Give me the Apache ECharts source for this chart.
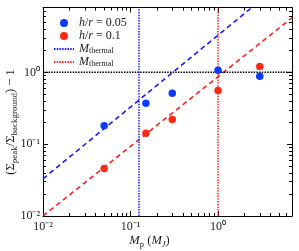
<!DOCTYPE html>
<html><head><meta charset="utf-8">
<script src="https://cdn.jsdelivr.net/npm/echarts@6/dist/echarts.min.js"></script>
<style>html,body{margin:0;padding:0;background:#fff}#c{width:299px;height:251px}</style>
</head><body><div id="c"></div>
<script>
// ---- data ----
const massValues = [0.05, 0.15, 0.3, 1, 3];            // M_p (M_J)
const excessH005 = [0.18, 0.37, 0.51, 1.07, 0.88];      // h/r = 0.05
const excessH01  = [0.046, 0.142, 0.22, 0.56, 1.21];    // h/r = 0.1
const fitMass    = [0.01, 7];
const fitH005    = [0.033, 23];
const fitH01     = [0.010, 5.75];
const thermalMassH005 = 0.125;
const thermalMassH01  = 1;
const unityLevel = 1;
const xRange = [0.01, 7];
const yRange = [0.01, 8];
const xMajorTicks = [0.01, 0.1, 1];
const xMinorTicks = [0.02, 0.03, 0.04, 0.05, 0.06, 0.07, 0.08, 0.09, 0.2, 0.3, 0.4, 0.5, 0.6, 0.7, 0.8, 0.9, 2, 3, 4, 5, 6];
const yMajorTicks = [0.01, 0.1, 1];
const yMinorTicks = [0.02, 0.03, 0.04, 0.05, 0.06, 0.07, 0.08, 0.09, 0.2, 0.3, 0.4, 0.5, 0.6, 0.7, 0.8, 0.9, 2, 3, 4, 5, 6, 7];
const tickLabelText = {'0.01': '10\u207B\u00B2', '0.1': '10\u207B\u00B9', '1': '10\u2070'};

const BLUE = '#0a3cff', RED = '#ff2a14';
const BLUE_L = '#1a1aff', RED_L = '#ff2020';
const FONT = 'Liberation Serif';

function mkAxis(pos, range, ticks, len, showLine, extra) {
  return Object.assign({
    type: 'log', position: pos, min: range[0], max: range[1],
    axisLine: {show: showLine, lineStyle: {color: '#000', width: 1}},
    axisTick: {show: true, inside: true, length: len, customValues: ticks, lineStyle: {color: '#000', width: 1}},
    splitLine: {show: false},
    axisLabel: {show: false}
  }, extra || {});
}
const labelCfg = (values, margin) => ({
  show: true, customValues: values, margin: margin,
  fontFamily: FONT, fontSize: 12, color: '#222',
  formatter: v => tickLabelText[String(+v.toPrecision(6))] || ''
});

const chart = echarts.init(document.getElementById('c'));
const pair = (xs, ys) => xs.map((x, i) => [x, ys[i]]);

chart.setOption({
  animation: false,
  backgroundColor: '#fff',
  grid: {left: 43, top: 7.5, right: 7, bottom: 35},
  xAxis: [
    mkAxis('bottom', xRange, xMajorTicks, 5, true, {axisLabel: labelCfg(xMajorTicks, 5)}),
    mkAxis('bottom', xRange, xMinorTicks, 3, false),
    mkAxis('top', xRange, xMajorTicks, 5, true),
    mkAxis('top', xRange, xMinorTicks, 3, false)
  ],
  yAxis: [
    mkAxis('left', yRange, yMajorTicks, 5, true, {axisLabel: labelCfg(yMajorTicks, 3)}),
    mkAxis('left', yRange, yMinorTicks, 3, false),
    mkAxis('right', yRange, yMajorTicks, 5, true),
    mkAxis('right', yRange, yMinorTicks, 3, false)
  ],
  graphic: [
    {type: 'text', left: 'center', bottom: 2, x: 20, z: 10, style: {
      text: '{it|M}{subr|p} {n|(}{it|M}{subi|J}{n|)}', rich: {
        it: {fontFamily: FONT, fontStyle: 'italic', fontSize: 12.5, fill: '#222', verticalAlign: 'middle', lineHeight: 16},
        n: {fontFamily: FONT, fontSize: 12.5, fill: '#222', verticalAlign: 'middle', lineHeight: 16},
        subr: {fontFamily: FONT, fontSize: 8.5, fill: '#222', verticalAlign: 'bottom', lineHeight: 16},
        subi: {fontFamily: FONT, fontStyle: 'italic', fontSize: 8.5, fill: '#222', verticalAlign: 'bottom', lineHeight: 16}
      }}},
    {type: 'text', x: 11, y: 122, rotation: Math.PI / 2, z: 10, style: {
      text: '{n|(\u03A3}{sub|peak}{n|/\u03A3}{sub|background}{n|) \u2212 1}', align: 'center', verticalAlign: 'middle', rich: {
        n: {fontFamily: FONT, fontSize: 12.5, fill: '#222', verticalAlign: 'middle', lineHeight: 16},
        sub: {fontFamily: FONT, fontSize: 9, fill: '#222', verticalAlign: 'bottom', lineHeight: 16}
      }}}
  ],
  legend: {
    orient: 'vertical', left: 53, top: 17, padding: 0, itemGap: 1, itemWidth: 20, itemHeight: 8,
    data: [
      {name: 'h005'}, {name: 'h01'},
      {name: 'mthB', itemStyle: {color: 'rgba(0,0,0,0)', borderWidth: 0, opacity: 0}},
      {name: 'mthR', itemStyle: {color: 'rgba(0,0,0,0)', borderWidth: 0, opacity: 0}}
    ],
    formatter: function (name) {
      if (name === 'h005') return '{it|h}{n|/}{it|r}{n| = 0.05}';
      if (name === 'h01') return '{it|h}{n|/}{it|r}{n| = 0.1}';
      return '{it|M}{sub|thermal}';
    },
    textStyle: {rich: {
      it: {fontFamily: FONT, fontStyle: 'italic', fontSize: 12, color: '#222', verticalAlign: 'middle', lineHeight: 12},
      n: {fontFamily: FONT, fontSize: 12, color: '#222', verticalAlign: 'middle', lineHeight: 12},
      sub: {fontFamily: FONT, fontSize: 8, color: '#222', verticalAlign: 'bottom', lineHeight: 12}
    }}
  },
  series: [
    {name: 'fitB', type: 'line', data: pair(fitMass, fitH005), symbol: 'none', z: 2,
     lineStyle: {color: BLUE_L, width: 1.6, type: [5, 3.5]}},
    {name: 'fitR', type: 'line', data: pair(fitMass, fitH01), symbol: 'none', z: 2,
     lineStyle: {color: RED_L, width: 1.6, type: [5, 3.5]}},
    {name: 'unity', type: 'line', data: pair(xRange, [unityLevel, unityLevel]), symbol: 'none', z: 2,
     lineStyle: {color: '#000', width: 1.5, type: [1.5, 1.2]}},
    {name: 'mthB', type: 'line', data: pair([thermalMassH005, thermalMassH005], yRange), symbol: 'none', z: 2,
     color: BLUE_L, lineStyle: {color: BLUE_L, width: 1.5, type: [1.5, 1.2]}},
    {name: 'mthR', type: 'line', data: pair([thermalMassH01, thermalMassH01], yRange), symbol: 'none', z: 2,
     color: RED_L, lineStyle: {color: RED_L, width: 1.5, type: [1.5, 1.2]}},
    {name: 'h005', type: 'scatter', data: pair(massValues, excessH005), symbol: 'circle', symbolSize: 7.5, z: 5,
     itemStyle: {color: BLUE, opacity: 1}},
    {name: 'h01', type: 'scatter', data: pair(massValues, excessH01), symbol: 'circle', symbolSize: 7.5, z: 5,
     itemStyle: {color: RED, opacity: 1}}
  ]
});
</script></body></html>
